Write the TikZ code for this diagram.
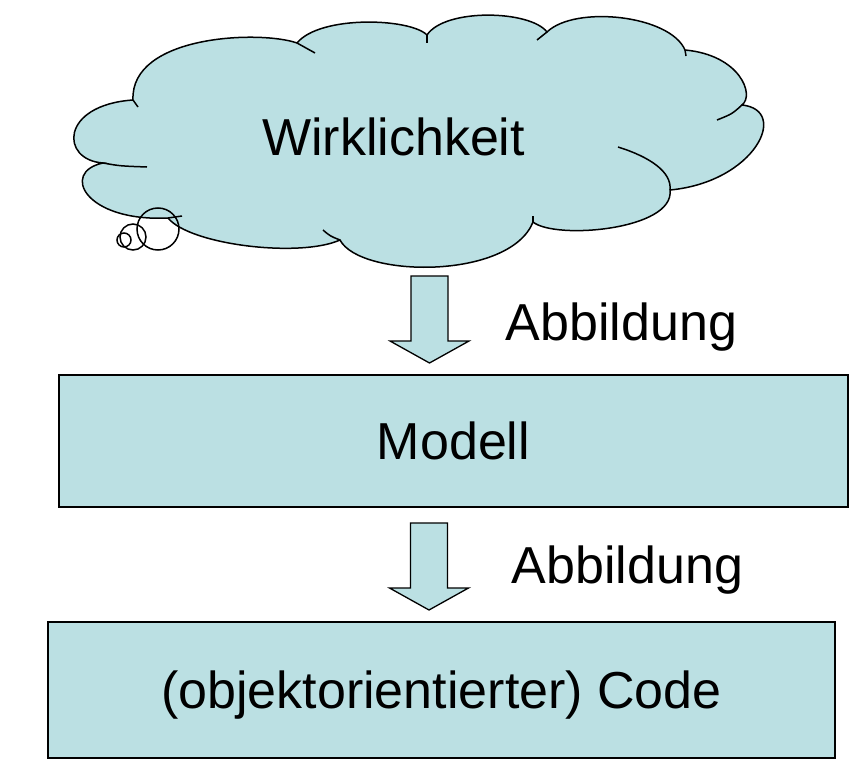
\documentclass[tikz,border=0pt]{standalone}
\usepackage{fontspec}
\setmainfont{Liberation Sans}
\definecolor{wolke}{RGB}{187,224,227}

\begin{document}
\begin{tikzpicture}
  [x=1pt, y=-1pt, line width=1.5pt,
   txt/.style={font=\fontsize{52}{62}\selectfont, inner sep=0pt},
   kasten/.style={draw, fill=wolke, txt, text height=37pt, text depth=0pt},
   pfeil/.pic={\draw[fill=wolke, line width=1.3pt, line join=miter]
       (-18.5,0) -- (18.5,0) -- (18.5,65) -- (39.5,65) -- (0,87)
       -- (-39.5,65) -- (-18.5,65) -- cycle;}]
  \useasboundingbox (0,0) rectangle (853,773);
  % Wolke
  \draw[fill=wolke] (133,100)
     .. controls (60,105) and (60,160) .. (103,163)
     .. controls (60,172) and (85,222) .. (168,218)
     .. controls (190,245) and (300,258) .. (340,240)
     .. controls (360,278) and (510,280) .. (533,222)
     .. controls (555,240) and (675,230) .. (670,190)
     .. controls (755,182) and (790,110) .. (742,105)
     .. controls (755,95) and (740,55) .. (685,50)
     .. controls (670,15) and (575,5) .. (547,32)
     .. controls (530,10) and (445,8) .. (427,35)
     .. controls (410,18) and (320,15) .. (297,43)
     .. controls (260,30) and (130,35) .. cycle;
  % innere Boegen
  \draw (133,100) -- (138,107);
  \draw (103,163) .. controls (120,166) .. (147,167);
  \draw (168,218) -- (182,216);
  \draw (323,230) .. controls (330,236) .. (340,240);
  \draw (533,222) -- (533,216);
  \draw (618,147) .. controls (650,157) and (672,172) .. (670,190);
  \draw (742,105) .. controls (732,114) .. (717,120);
  \draw (685,50) -- (686,56);
  \draw (547,32) -- (537,40);
  \draw (427,35) -- (427,43);
  \draw (297,43) -- (315,53);
  % Gedankenblasen
  \draw (158,229) circle (21);
  \draw (133,237) circle (13);
  \draw (124,240) circle (7);
  \node[txt, anchor=base] (wirk) at (393.5,155) {Wirklichkeit};

  \node[kasten, minimum width=789pt, minimum height=132pt] (modell)
       at (453.5,441) {Modell};
  \node[kasten, minimum width=787pt, minimum height=136pt] (code)
       at (441.5,690) {(objektorientierter) Code};

  \pic at (429.5,276) {pfeil};
  \pic at (429,523) {pfeil};
  \node[txt, anchor=base west] (abb_1) at (505,340) {Abbildung};
  \node[txt, anchor=base west] (abb_2) at (511,583) {Abbildung};
\end{tikzpicture}
\end{document}
